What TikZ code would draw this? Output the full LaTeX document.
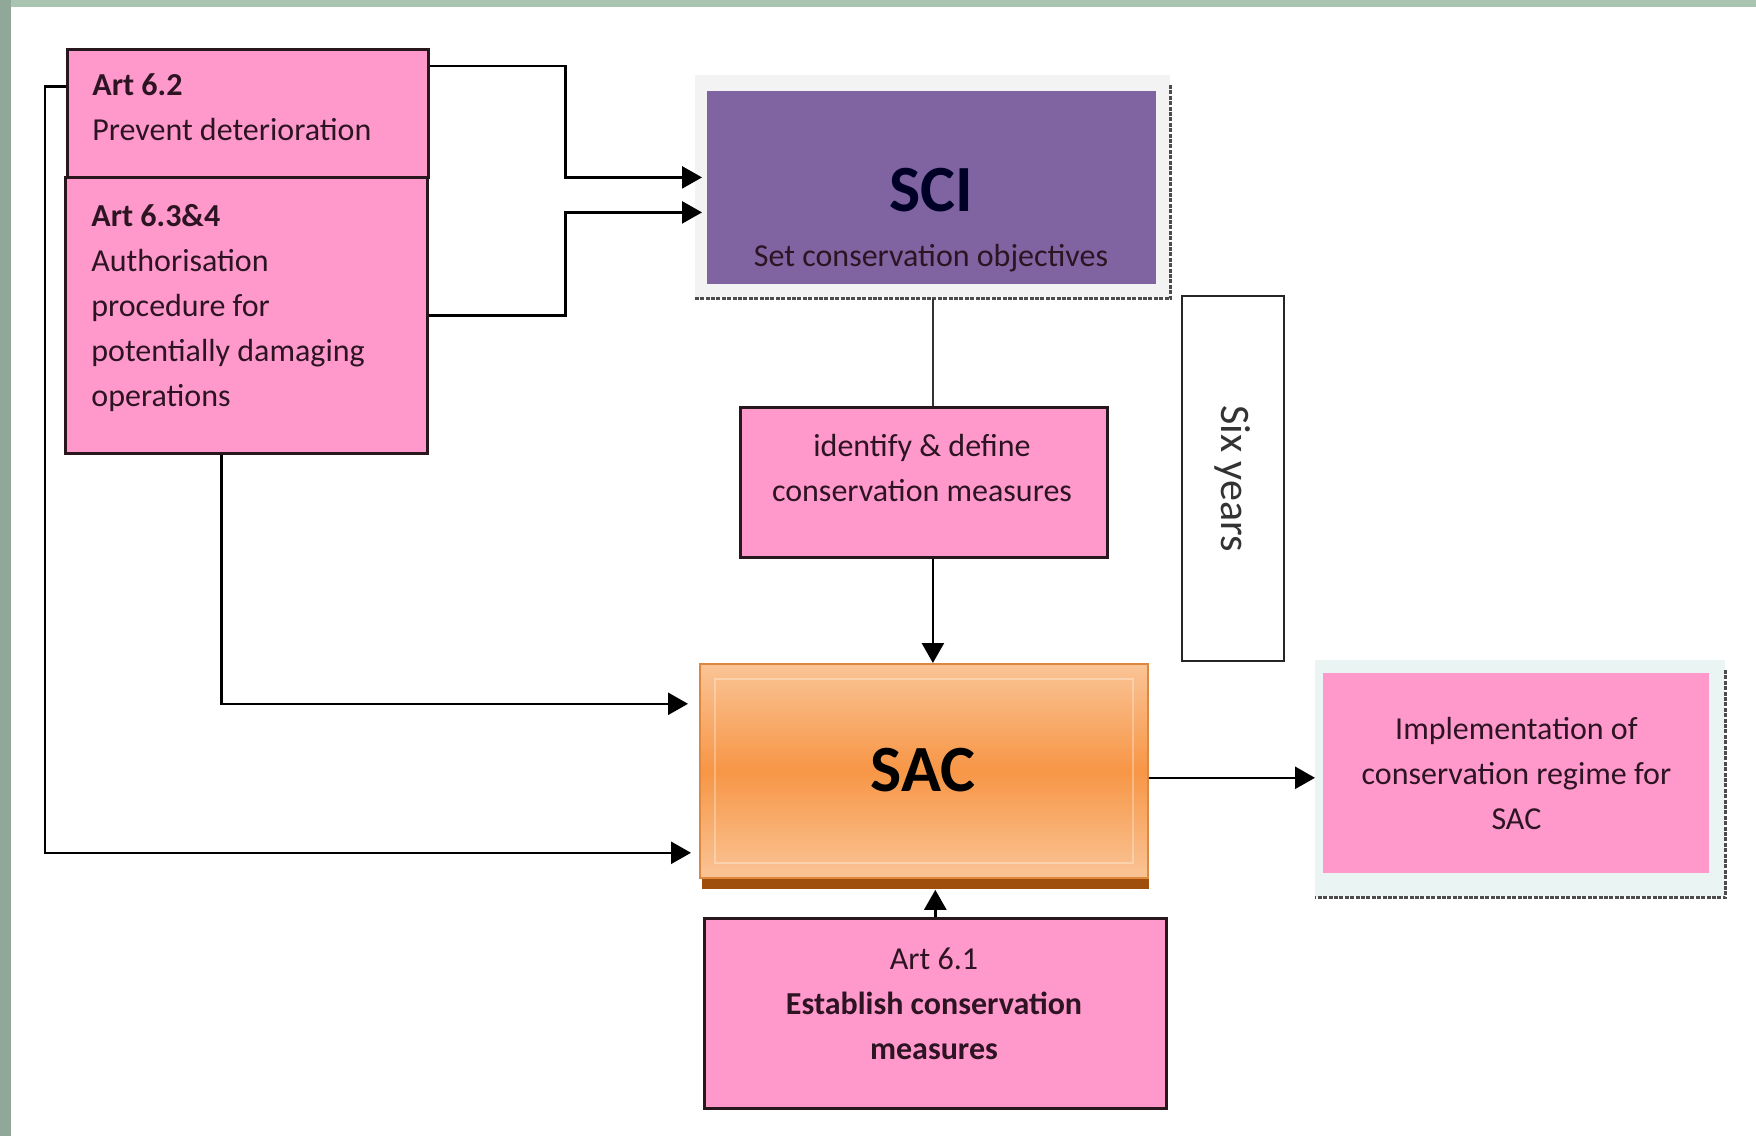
\documentclass[tikz,border=0pt]{standalone}
\usepackage{fontspec}
\setmainfont{Carlito}
\usetikzlibrary{arrows.meta}

\definecolor{boxpink}{RGB}{255,153,204}
\definecolor{scipurple}{RGB}{128,100,162}
\definecolor{sacorange}{RGB}{247,150,70}
\definecolor{saclight}{RGB}{250,196,150}
\definecolor{sacbrown}{RGB}{160,78,12}
\definecolor{edge}{RGB}{40,24,30}
\definecolor{inktext}{RGB}{45,20,35}
\definecolor{sage}{RGB}{170,196,178}
\definecolor{panelgray}{RGB}{243,243,243}
\definecolor{panelcyan}{RGB}{234,245,243}

\begin{document}
\begin{tikzpicture}[x=0.5pt, y=-0.5pt,
    every node/.style={font=\fontsize{16}{22.5}\selectfont, text=inktext},
    pinkbox/.style={draw=edge, line width=1.3pt, fill=boxpink},
    flow/.style={black, line width=1.3pt, -{Triangle[length=10pt,width=11pt]}},
    link/.style={black!80, line width=1.3pt},
    framebox/.style={anchor=north west, inner sep=0pt},
    lefttext/.style={anchor=west, inner sep=0pt, text width=155pt, align=flush left},
    shadowline/.style={gray!60!black, line width=1.5pt, dash pattern=on 2pt off 0.7pt},
    bigtext/.style={font=\fontsize{33}{33}\selectfont\bfseries, text=black}]
    \useasboundingbox (0,0) rectangle (1756,1136);
    \fill[white] (0,0) rectangle (1756,1136);

    % Slide border
    \fill[sage] (0,0) rectangle (1756,7);
    \fill[sage!85!black] (0,0) rectangle (11,1136);

    % Articles on the left
    \node[pinkbox, framebox, minimum width=181pt, minimum height=138pt] (a634) at (64,176) {};
    \node[pinkbox, framebox, minimum width=180.5pt, minimum height=64pt] (a62) at (66,48) {};
    \node[lefttext] (a634txt) at (91,308)
        {\textbf{Art 6.3\&4}\\Authorisation\\procedure for\\potentially damaging\\operations};
    \node[lefttext] (a62txt) at (92,107.5) {\textbf{Art 6.2}\\Prevent deterioration};

    % SCI
    \node[framebox, fill=panelgray, minimum width=237.5pt, minimum height=111.5pt] (sciframe) at (695,75) {};
    \draw[shadowline] ([yshift=-5pt]sciframe.north east) -- (sciframe.south east) -- (sciframe.south west);
    \node[framebox, fill=scipurple, minimum width=224.5pt, minimum height=96.5pt] (sci) at (707,91) {};
    \node[bigtext, text=black!85!blue] (scititle) at (931,190) {SCI};
    \node (scisub) at (931,258) {Set conservation objectives};

    % Conservation measures
    \node[pinkbox, framebox, minimum width=183.5pt, minimum height=75pt] (idbox) at (739,406) {};
    \node[align=center] (idtxt) at (922,468) {identify \& define\\conservation measures};

    % Six years
    \node[draw=black!85, line width=1.3pt, fill=white, rotate=-90, minimum width=182.5pt, minimum height=51pt,
        font=\fontsize{21}{21}\selectfont, text=black!80] (six) at (1233,478.5) {Six years};

    % SAC
    \node[framebox, fill=sacbrown, minimum width=223.5pt, minimum height=107pt] (sacsh) at (702,675) {};
    \node[framebox, draw=sacorange!90!black, line width=0.8pt, top color=saclight, bottom color=saclight,
        middle color=sacorange, minimum width=224pt, minimum height=107pt] (sac) at (699,663) {};
    \draw[white, opacity=0.3, line width=1pt] ([shift={(8pt,-8pt)}]sac.north west) rectangle ([shift={(-8pt,8pt)}]sac.south east);
    \node[bigtext] (sactitle) at (923,770) {SAC};

    % Implementation
    \node[framebox, fill=panelcyan, minimum width=205pt, minimum height=118.5pt] (implframe) at (1315,660) {};
    \draw[shadowline] ([yshift=-5pt]implframe.north east) -- (implframe.south east) -- (implframe.south west);
    \node[framebox, fill=boxpink, minimum width=193pt, minimum height=100pt, align=center]
        (impl) at (1323,673) {Implementation of\\conservation regime for\\SAC};

    % Art 6.1
    \node[pinkbox, framebox, minimum width=231pt, minimum height=95pt] (a61) at (703,917) {};
    \node[align=center] (a61txt) at (934,1004) {Art 6.1\\\textbf{Establish conservation}\\\textbf{measures}};

    % Arrows into SCI
    \draw[flow, shorten >=2.5pt] ([yshift=-9pt]a62.north east) -- ++(68pt,0) |- ([yshift=5.25pt]sci.west);
    \draw[flow, shorten >=2.5pt] (a634.east) -- ++(68.5pt,0) |- ([yshift=-12.25pt]sci.west);

    % Arrows into SAC
    \draw[flow, shorten >=5.5pt] ([xshift=-12.5pt]a634.south) |- ([yshift=33.5pt]sac.west);
    \draw[flow, shorten >=4pt] ([yshift=13.5pt]a62.west) -- ++(-10.5pt,0) |- ([yshift=-41pt]sac.west);
    \draw[link] (sciframe.south) -- (idbox.north -| sciframe.south);
    \draw[flow] (idbox.south -| sciframe.south) -- (sac.north -| sciframe.south);
    \draw[flow] (a61.north) -- (sacsh.south -| a61.north);

    % Out of SAC
    \draw[flow] ([yshift=-3.5pt]sac.east) -- ([yshift=-3.5pt]sac.east -| implframe.west);
\end{tikzpicture}
\end{document}
